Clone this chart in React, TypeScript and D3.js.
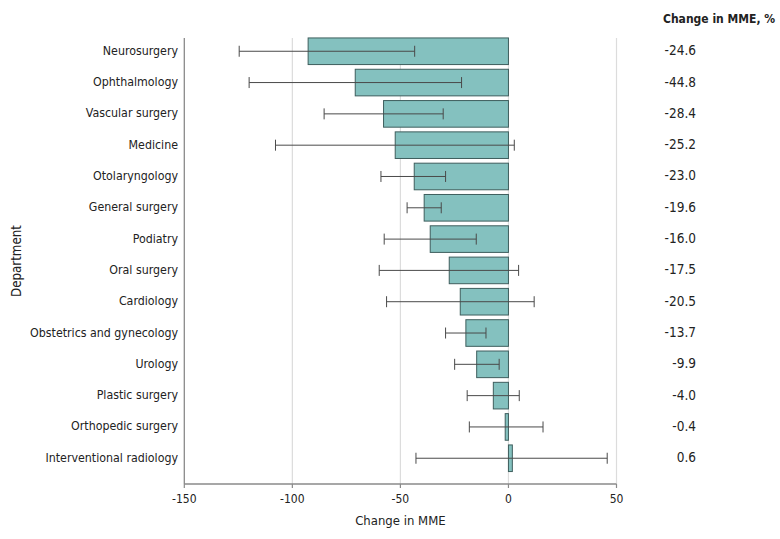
import React from "react";
import * as d3 from "d3";

const departments = [
  "Neurosurgery",
  "Ophthalmology",
  "Vascular surgery",
  "Medicine",
  "Otolaryngology",
  "General surgery",
  "Podiatry",
  "Oral surgery",
  "Cardiology",
  "Obstetrics and gynecology",
  "Urology",
  "Plastic surgery",
  "Orthopedic surgery",
  "Interventional radiology",
];
const changeMME = [-92.7, -70.9, -57.8, -52.4, -43.6, -39.0, -36.2, -27.4, -22.3, -19.7, -14.7, -7.0, -1.5, 1.8];
const ciLow = [-124.6, -120.0, -85.3, -107.8, -59.0, -46.9, -57.5, -59.8, -56.4, -29.1, -24.9, -19.1, -18.1, -42.8];
const ciHigh = [-43.4, -21.7, -30.2, 2.7, -29.1, -31.1, -14.9, 4.7, 11.9, -10.4, -4.3, 5.0, 16.0, 45.7];
const changePct = ["-24.6", "-44.8", "-28.4", "-25.2", "-23.0", "-19.6", "-16.0", "-17.5", "-20.5", "-13.7", "-9.9", "-4.0", "-0.4", "0.6"];
const xTicks = [-150, -100, -50, 0, 50];

const FONT = "'DejaVu Sans Condensed', 'Liberation Sans Narrow', 'Roboto', sans-serif";

export default function App() {
  const x = d3.scaleLinear().domain([-150, 50]).range([184.3, 616.5]);
  const y = d3
    .scaleBand<string>()
    .domain(departments)
    .range([35.6, 473.9])
    .paddingInner(0.15)
    .paddingOuter(0.075);
  const plotTop = 38;
  const plotBottom = 484;
  const capH = 5.5;

  return (
    <svg
      width={780}
      height={539}
      style={{ position: "absolute", left: 0, top: 0, background: "#fff" }}
      fontFamily={FONT}
    >
      {/* gridlines */}
      {xTicks.slice(1).map((t) => (
        <line key={"g" + t} x1={x(t)} x2={x(t)} y1={plotTop} y2={plotBottom} stroke="#dcdcdc" strokeWidth={1.2} />
      ))}
      {/* bars */}
      {departments.map((d, i) => {
        const v = changeMME[i];
        const x0 = x(Math.min(0, v));
        const x1 = x(Math.max(0, v));
        return (
          <rect
            key={"b" + d}
            x={x0}
            y={y(d)!}
            width={x1 - x0}
            height={y.bandwidth()}
            fill="#84c1bf"
            stroke="#3e5e5d"
            strokeWidth={1}
          />
        );
      })}
      {/* error bars */}
      {departments.map((d, i) => {
        const cy = y(d)! + y.bandwidth() / 2;
        return (
          <g key={"e" + d} stroke="#4a4a4a" strokeWidth={1}>
            <line x1={x(ciLow[i])} x2={x(ciHigh[i])} y1={cy} y2={cy} />
            <line x1={x(ciLow[i])} x2={x(ciLow[i])} y1={cy - capH} y2={cy + capH} />
            <line x1={x(ciHigh[i])} x2={x(ciHigh[i])} y1={cy - capH} y2={cy + capH} />
          </g>
        );
      })}
      {/* axes */}
      <line x1={x(-150)} x2={x(-150)} y1={plotTop} y2={plotBottom} stroke="#8a8a8a" strokeWidth={1.3} />
      <line x1={x(-150)} x2={x(50)} y1={plotBottom} y2={plotBottom} stroke="#8a8a8a" strokeWidth={1.3} />
      {xTicks.map((t) => (
        <g key={"t" + t}>
          <line x1={x(t)} x2={x(t)} y1={plotBottom} y2={plotBottom + 4} stroke="#8a8a8a" strokeWidth={1.2} />
          <text x={x(t)} y={499} textAnchor="middle" dominantBaseline="middle" fontSize={12} fill="#222">
            {t}
          </text>
        </g>
      ))}
      <text x={(x(-150) + x(50)) / 2} y={521} textAnchor="middle" dominantBaseline="middle" fontSize={13} fill="#222">
        Change in MME
      </text>
      {/* y labels */}
      {departments.map((d) => (
        <text
          key={"l" + d}
          x={178}
          y={y(d)! + y.bandwidth() / 2}
          textAnchor="end"
          dominantBaseline="middle"
          fontSize={12.3}
          fill="#222"
        >
          {d}
        </text>
      ))}
      <text
        transform={`translate(17,261) rotate(-90)`}
        textAnchor="middle"
        dominantBaseline="middle"
        fontSize={13.2}
        fill="#222"
      >
        Department
      </text>
      {/* right column */}
      <text x={663} y={19} dominantBaseline="middle" fontSize={12} fontWeight={700} fill="#222">
        Change in MME, %
      </text>
      {departments.map((d, i) => (
        <text
          key={"p" + d}
          x={696}
          y={y(d)! + y.bandwidth() / 2}
          textAnchor="end"
          dominantBaseline="middle"
          fontSize={13.5}
          fill="#222"
        >
          {changePct[i]}
        </text>
      ))}
    </svg>
  );
}
